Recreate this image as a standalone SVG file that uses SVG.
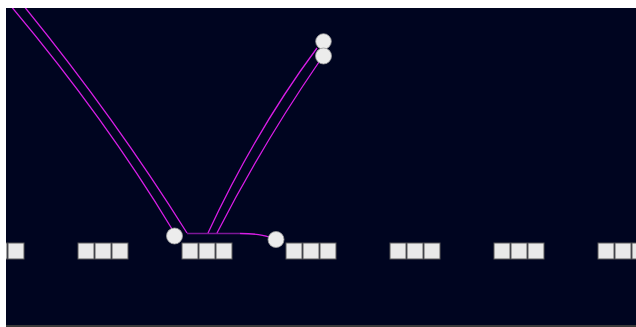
<svg xmlns="http://www.w3.org/2000/svg" width="636" height="327" viewBox="0 0 636 327">
<style>
.sq{fill:#e9e9e9;stroke:#5a5a5a;stroke-width:1}
.nd{fill:#ececec;stroke:#9a9a9a;stroke-width:0.8}
.ln{fill:none;stroke:#d81ee6;stroke-width:1.3}
.lp{fill:none;stroke:#7c1796;stroke-width:1.6}
</style>
<defs>
<g id="trio">
<rect class="sq" x="0" y="0" width="16" height="16"/>
<rect class="sq" x="17" y="0" width="16" height="16"/>
<rect class="sq" x="34" y="0" width="16" height="16"/>
</g>
<clipPath id="bgclip"><rect x="6" y="8" width="630" height="317"/></clipPath>
</defs>
<rect x="0" y="0" width="636" height="327" fill="#ffffff"/>
<rect x="6" y="8" width="630" height="317" fill="#000520"/>
<rect x="6" y="325" width="630" height="2" fill="#3a3a3a"/>
<g id="tracks" clip-path="url(#bgclip)">
<use href="#trio" x="-26" y="243"/>
<use href="#trio" x="78" y="243"/>
<use href="#trio" x="182" y="243"/>
<use href="#trio" x="286" y="243"/>
<use href="#trio" x="390" y="243"/>
<use href="#trio" x="494" y="243"/>
<use href="#trio" x="598" y="243"/>
</g>
<g id="connectors" clip-path="url(#bgclip)">
<path class="ln" d="M10,5 Q105,118 172,229"/>
<path class="ln" d="M23,5 Q115,118 187,233"/>
<path class="lp" d="M187,233.5 L240,233.5"/>
<path class="ln" d="M240,233.5 Q260,233.5 269,237"/>
<path class="ln" d="M317,48 Q256,130 208,233"/>
<path class="ln" d="M319,62 Q262,145 217,233"/>
</g>
<g id="node-a"><circle class="nd" cx="174.5" cy="236" r="8"/></g>
<g id="node-b"><circle class="nd" cx="276" cy="239.5" r="8"/></g>
<g id="node-c"><circle class="nd" cx="323.5" cy="41.5" r="7.8"/></g>
<g id="node-d"><circle class="nd" cx="323.5" cy="56" r="8"/></g>
</svg>
